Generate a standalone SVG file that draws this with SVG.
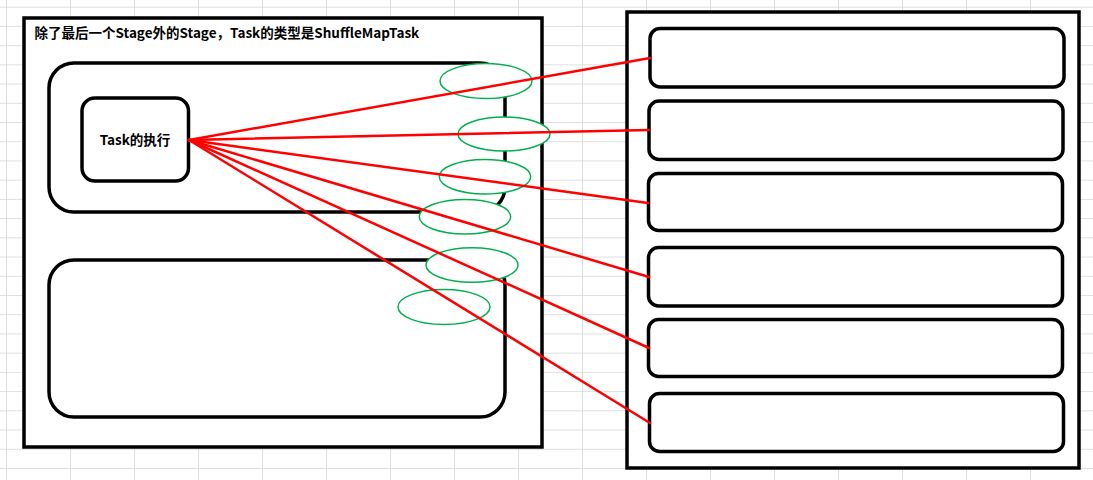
<svg xmlns="http://www.w3.org/2000/svg" width="1093" height="480" viewBox="0 0 1093 480">
<style>
.box{fill:#ffffff;stroke:#000000;stroke-width:3.5}
.ell{fill:#ffffff;stroke:#00b050;stroke-width:1.5}
.conn{stroke:#ff0000;stroke-width:2.5;fill:none;stroke-linecap:round}
.lbl{font-family:"Noto Sans CJK SC","Noto Sans",sans-serif;font-weight:bold;font-size:13.5px;fill:#000000}
</style>
<defs>
<pattern id="cells" x="6" y="6.7" width="64" height="19.22" patternUnits="userSpaceOnUse">
<path d="M0.5 0 V19.22 M0 0.5 H64" stroke="#dedede" stroke-width="1" fill="none"/>
</pattern>
</defs>
<rect x="0" y="0" width="1093" height="480" fill="#ffffff"/>
<rect x="0" y="0" width="1093" height="480" fill="url(#cells)"/>

<g id="stage-left">
<rect class="box" x="24" y="18" width="518" height="429"/>
<text class="lbl" x="34.5" y="37.5">除了最后一个Stage外的Stage，Task的类型是ShuffleMapTask</text>
</g>
<g id="partition-top">
<rect class="box" x="49" y="63" width="456" height="149" rx="25" ry="25"/>
</g>
<g id="task-exec">
<rect class="box" x="82" y="98" width="106.5" height="83" rx="13" ry="13"/>
<text class="lbl" x="135" y="145" text-anchor="middle">Task的执行</text>
</g>
<g id="partition-bottom">
<rect class="box" x="49" y="260" width="456" height="157" rx="25" ry="25"/>
</g>

<g id="stage-right">
<rect class="box" x="627" y="12" width="452" height="456"/>
</g>
<g id="bucket-1"><rect class="box" x="650" y="28.5" width="414" height="58.5" rx="10" ry="10"/></g>
<g id="bucket-2"><rect class="box" x="649" y="101" width="414" height="58.5" rx="10" ry="10"/></g>
<g id="bucket-3"><rect class="box" x="648.5" y="173.5" width="414" height="57" rx="10" ry="10"/></g>
<g id="bucket-4"><rect class="box" x="648.5" y="247.5" width="414" height="58.5" rx="10" ry="10"/></g>
<g id="bucket-5"><rect class="box" x="648.5" y="319.5" width="414" height="57" rx="10" ry="10"/></g>
<g id="bucket-6"><rect class="box" x="649.5" y="393.5" width="414" height="58" rx="10" ry="10"/></g>

<g id="markers">
<ellipse class="ell" cx="486" cy="81" rx="46" ry="17.5"/>
<ellipse class="ell" cx="504" cy="134" rx="46" ry="17"/>
<ellipse class="ell" cx="485" cy="176.7" rx="45.7" ry="17.3"/>
<ellipse class="ell" cx="465" cy="216.7" rx="45.7" ry="17.3"/>
<ellipse class="ell" cx="472" cy="265" rx="46" ry="17.3"/>
<ellipse class="ell" cx="444" cy="307" rx="46" ry="17.5"/>
</g>

<g id="connectors">
<line class="conn" x1="189" y1="140" x2="650" y2="58"/>
<line class="conn" x1="189" y1="140" x2="649" y2="130"/>
<line class="conn" x1="189" y1="140" x2="648" y2="203"/>
<line class="conn" x1="189" y1="140" x2="649" y2="277"/>
<line class="conn" x1="189" y1="140" x2="649" y2="348"/>
<line class="conn" x1="189" y1="140" x2="650" y2="423"/>
</g>
</svg>
